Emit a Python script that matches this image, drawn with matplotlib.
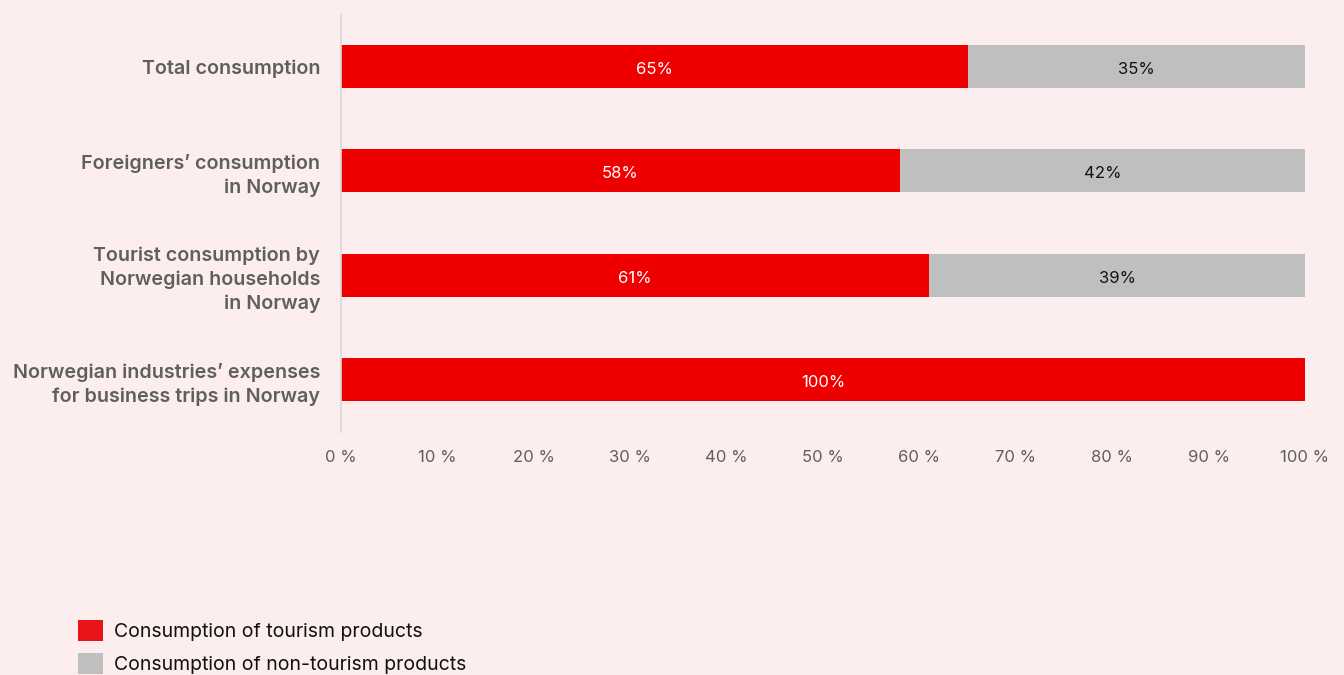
import numpy as np
import matplotlib.pyplot as plt
from matplotlib.patches import Patch

categories = [
    "Total consumption",
    "Foreigners\u2019 consumption\nin Norway",
    "Tourist consumption by\nNorwegian households\nin Norway",
    "Norwegian industries\u2019 expenses\nfor business trips in Norway",
]
tourism = [65, 58, 61, 100]
non_tourism = [35, 42, 39, 0]
series_names = ["Consumption of tourism products", "Consumption of non-tourism products"]
xticks = list(range(0, 101, 10))

BG = "#fcedee"
RED = "#ee0000"
GREY = "#bfbfbf"
TXT = "#5f5f5f"

plt.rcParams['font.family'] = ['Inter', 'DejaVu Sans']

fig = plt.figure(figsize=(13.44, 6.75), dpi=100, facecolor=BG)
ax = fig.add_axes([341 / 1344, 1 - 432 / 675, 964 / 1344, 418 / 675])
ax.set_facecolor(BG)

y = np.arange(len(categories))
ax.barh(y, tourism, height=0.41, color=RED)
ax.barh(y, non_tourism, left=tourism, height=0.41, color=GREY)

for i in range(len(categories)):
    ax.text(tourism[i] / 2, y[i] + 0.03, f"{tourism[i]}%", ha="center", va="center",
            color="white", fontsize=12)
    if non_tourism[i] > 0:
        ax.text(tourism[i] + non_tourism[i] / 2, y[i] + 0.03, f"{non_tourism[i]}%",
                ha="center", va="center", color="#111111", fontsize=12)

ax.set_xlim(0, 100)
ax.set_ylim(3.5, -0.5)
ax.set_yticks(y)
ax.set_yticklabels(categories, fontsize=14.2, fontweight="semibold", color=TXT,
                   linespacing=1.36)
ax.set_xticks(xticks)
ax.set_xticklabels([f"{t} %" for t in xticks], fontsize=12, color=TXT)
ax.tick_params(axis="both", length=0)
ax.tick_params(axis="y", pad=15)
ax.tick_params(axis="x", pad=13)

for s in ["top", "right", "bottom"]:
    ax.spines[s].set_visible(False)
ax.spines["left"].set_color("#d9d9d9")
ax.spines["left"].set_linewidth(1.2)

handles = [Patch(facecolor="#e8141a"), Patch(facecolor=GREY)]
fig.legend(handles, series_names, loc="upper left", bbox_to_anchor=(78 / 1344, 1 - 620 / 675),
           frameon=False, fontsize=14, handlelength=1.3, handleheight=1.3,
           handletextpad=0.55, labelspacing=0.6, borderpad=0, borderaxespad=0,
           labelcolor="#111111")

fig.savefig("out.png", dpi=100, facecolor=BG)
